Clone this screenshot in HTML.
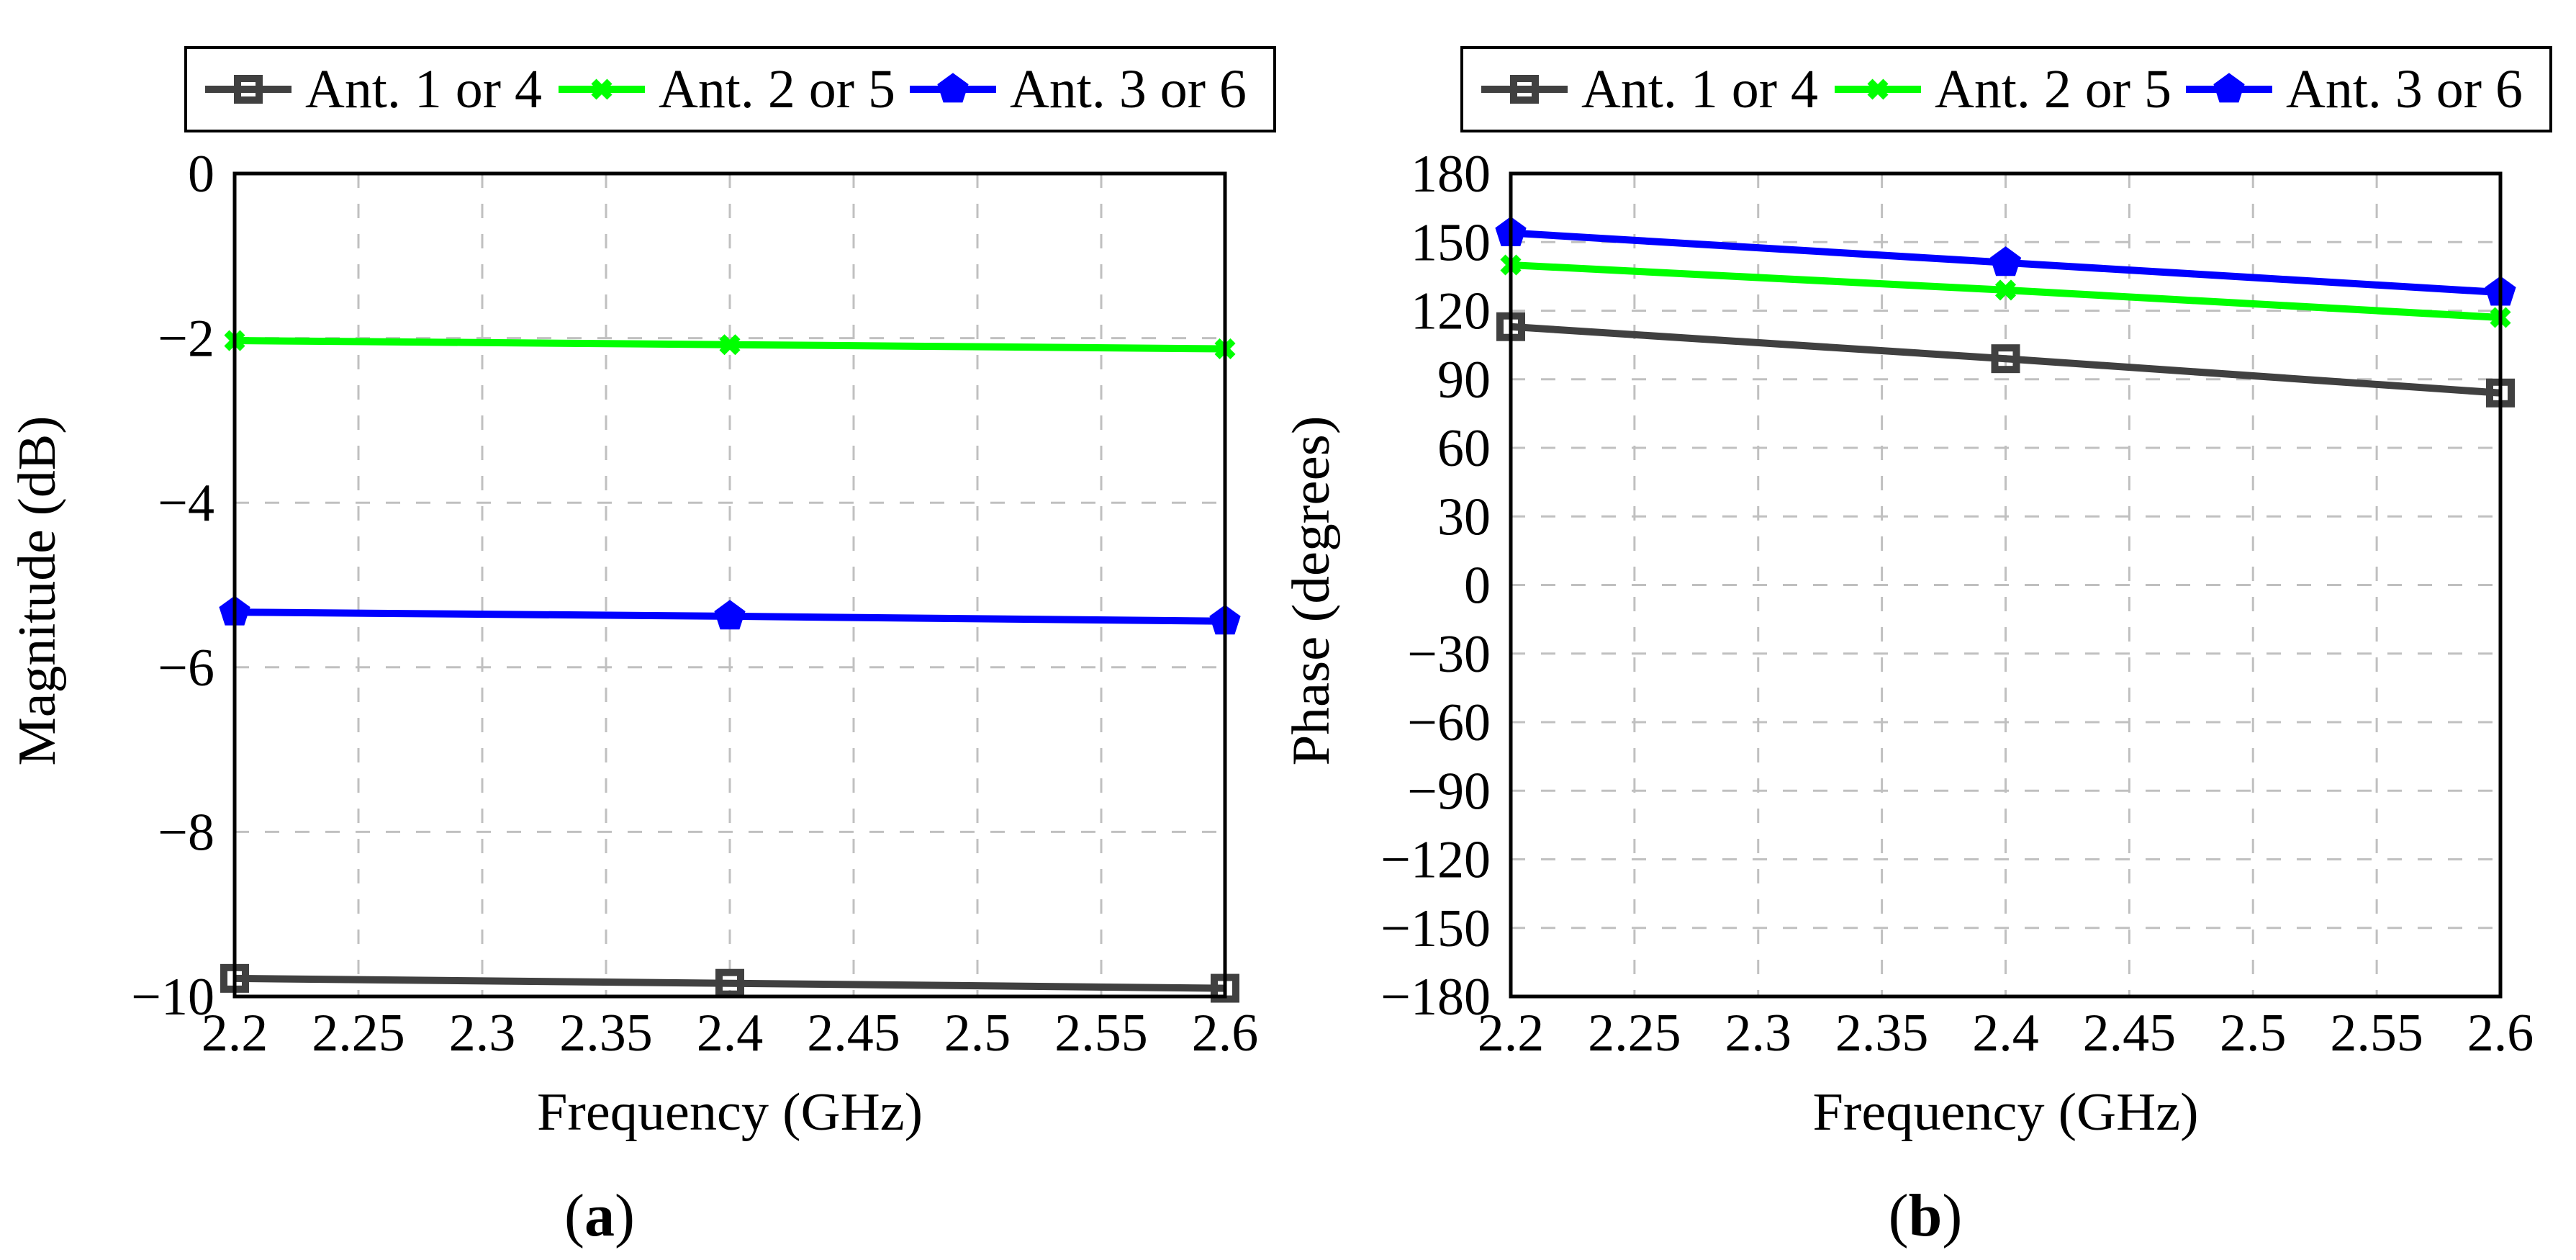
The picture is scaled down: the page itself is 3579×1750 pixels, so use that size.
<!DOCTYPE html>
<html><head><meta charset="utf-8"><style>
html,body{margin:0;padding:0;background:#fff;}
svg{display:block;font-family:"Liberation Serif",serif;}
</style></head><body>
<svg id="fig" width="3579" height="1750" viewBox="0 0 3579 1750" xmlns="http://www.w3.org/2000/svg"></svg>
<script>
const freqs = [2.2, 2.4, 2.6];
const xTicks = [2.2, 2.25, 2.3, 2.35, 2.4, 2.45, 2.5, 2.55, 2.6];
const xTickLabels = ["2.2","2.25","2.3","2.35","2.4","2.45","2.5","2.55","2.6"];
const magAnt14 = [-9.78, -9.84, -9.90];
const magAnt25 = [-2.03, -2.08, -2.13];
const magAnt36 = [-5.33, -5.38, -5.44];
const magTicks = [0, -2, -4, -6, -8, -10];
const phaseAnt14 = [113, 99, 84];
const phaseAnt25 = [140, 129, 117];
const phaseAnt36 = [154, 141, 128];
const phaseTicks = [180,150,120,90,60,30,0,-30,-60,-90,-120,-150,-180];
const seriesNames = ["Ant. 1 or 4","Ant. 2 or 5","Ant. 3 or 6"];

const NS="http://www.w3.org/2000/svg";
const svg=document.getElementById('fig');
function mk(tag,attrs,parent){const e=document.createElementNS(NS,tag);for(const k in attrs)e.setAttribute(k,attrs[k]);(parent||svg).appendChild(e);return e;}
function fmt(v){return v<0?"\u2212"+Math.abs(v):String(v);}
const colors=["#404040","#00ff00","#0000ff"];

function marker(g,type,cx,cy,color){
  let m;
  if(type===0){m=mk('rect',{x:cx-15,y:cy-15,width:30,height:30,fill:'none',stroke:color,'stroke-width':10},g);}
  else if(type===1){m=mk('path',{d:`M${cx-11} ${cy-11}L${cx+11} ${cy+11}M${cx-11} ${cy+11}L${cx+11} ${cy-11}`,stroke:color,'stroke-width':10,fill:'none'},g);}
  else{let p=[];for(let i=0;i<5;i++){const a=-Math.PI/2+i*2*Math.PI/5;p.push((cx+19*Math.cos(a)).toFixed(1)+','+(cy+19*Math.sin(a)).toFixed(1));}
    m=mk('polygon',{points:p.join(' '),fill:color,stroke:color,'stroke-width':6},g);}
  
  
}

function legend(ox,name){
  const g=mk('g',{});
  
  
  const b=mk('rect',{x:ox,y:66,width:1513,height:116,fill:'#fff',stroke:'#000','stroke-width':4},g);
  
  
  const offs=[0,491,979];
  for(let i=0;i<3;i++){
    const e=mk('g',{},g);
    
    
    const x0=ox+27+offs[i];
    mk('line',{x1:x0,y1:124,x2:x0+120,y2:124,stroke:colors[i],'stroke-width':10},e);
    marker(e,i,x0+60,124,colors[i]);
    const t=mk('text',{x:x0+139,y:149,'font-size':76,textLength:329,lengthAdjust:'spacingAndGlyphs'},e);
    t.textContent=seriesNames[i];
    
    
  }
}

function chart(L,R,T,B,yMin,yMax,yTicks,series,yTitle,yTitleX,caption,capX,name){
  const g=mk('g',{});
  
  
  const X=v=>L+(v-2.2)/(2.6-2.2)*(R-L);
  const Y=v=>B-(v-yMin)/(yMax-yMin)*(B-T);
  const grid=mk('g',{},g);
  
  
  xTicks.forEach((v,i)=>{
    if(i>0&&i<xTicks.length-1) mk('line',{x1:X(v),y1:T,x2:X(v),y2:B,stroke:'#c0c0c0','stroke-width':3,'stroke-dasharray':'20 22'},grid);
    const t=mk('text',{x:X(v),y:1459,'font-size':74,'text-anchor':'middle'},g);
    t.textContent=xTickLabels[i];
    
    
  });
  yTicks.forEach(v=>{
    if(v!==yMin&&v!==yMax) mk('line',{x1:L,y1:Y(v),x2:R,y2:Y(v),stroke:'#c0c0c0','stroke-width':3,'stroke-dasharray':'20 22'},grid);
    const t=mk('text',{x:L-28,y:Y(v)+25,'font-size':74,'text-anchor':'end'},g);
    t.textContent=fmt(v);
    
    
  });
  series.forEach((s,i)=>{
    const sg=mk('g',{},g);
    
    
    const pts=freqs.map((f,j)=>X(f).toFixed(1)+','+Y(s[j]).toFixed(1)).join(' ');
    const pl=mk('polyline',{points:pts,fill:'none',stroke:colors[i],'stroke-width':10},sg);
    
    
    freqs.forEach((f,j)=>marker(sg,i,X(f),Y(s[j]),colors[i]));
  });
  const fr=mk('rect',{x:L,y:T,width:R-L,height:B-T,fill:'none',stroke:'#000','stroke-width':5},g);
  
  
  const xt=mk('text',{x:(L+R)/2,y:1569,'font-size':74,'text-anchor':'middle',textLength:536,lengthAdjust:'spacingAndGlyphs'},g);
  xt.textContent='Frequency (GHz)';
  
  
  const cy=(T+B)/2+8;
  const yt=mk('text',{x:0,y:0,'font-size':74,'text-anchor':'middle',textLength:486,lengthAdjust:'spacingAndGlyphs',transform:`translate(${yTitleX+24},${cy}) rotate(-90)`},g);
  yt.textContent=yTitle;
  
  
  const c=mk('text',{x:capX,y:1716,'font-size':84,'text-anchor':'middle'},g);
  c.innerHTML='(<tspan font-weight="bold">'+caption+'</tspan>)';
  
  
}

legend(258,'legend-magnitude');
legend(2031,'legend-phase');
chart(326,1702,241,1384,-10,0,magTicks,[magAnt14,magAnt25,magAnt36],'Magnitude (dB)',52,'a',833,'magnitude-chart');
chart(2099,3474,241,1384,-180,180,phaseTicks,[phaseAnt14,phaseAnt25,phaseAnt36],'Phase (degrees)',1822,'b',2675,'phase-chart');
</script>
</body></html>
